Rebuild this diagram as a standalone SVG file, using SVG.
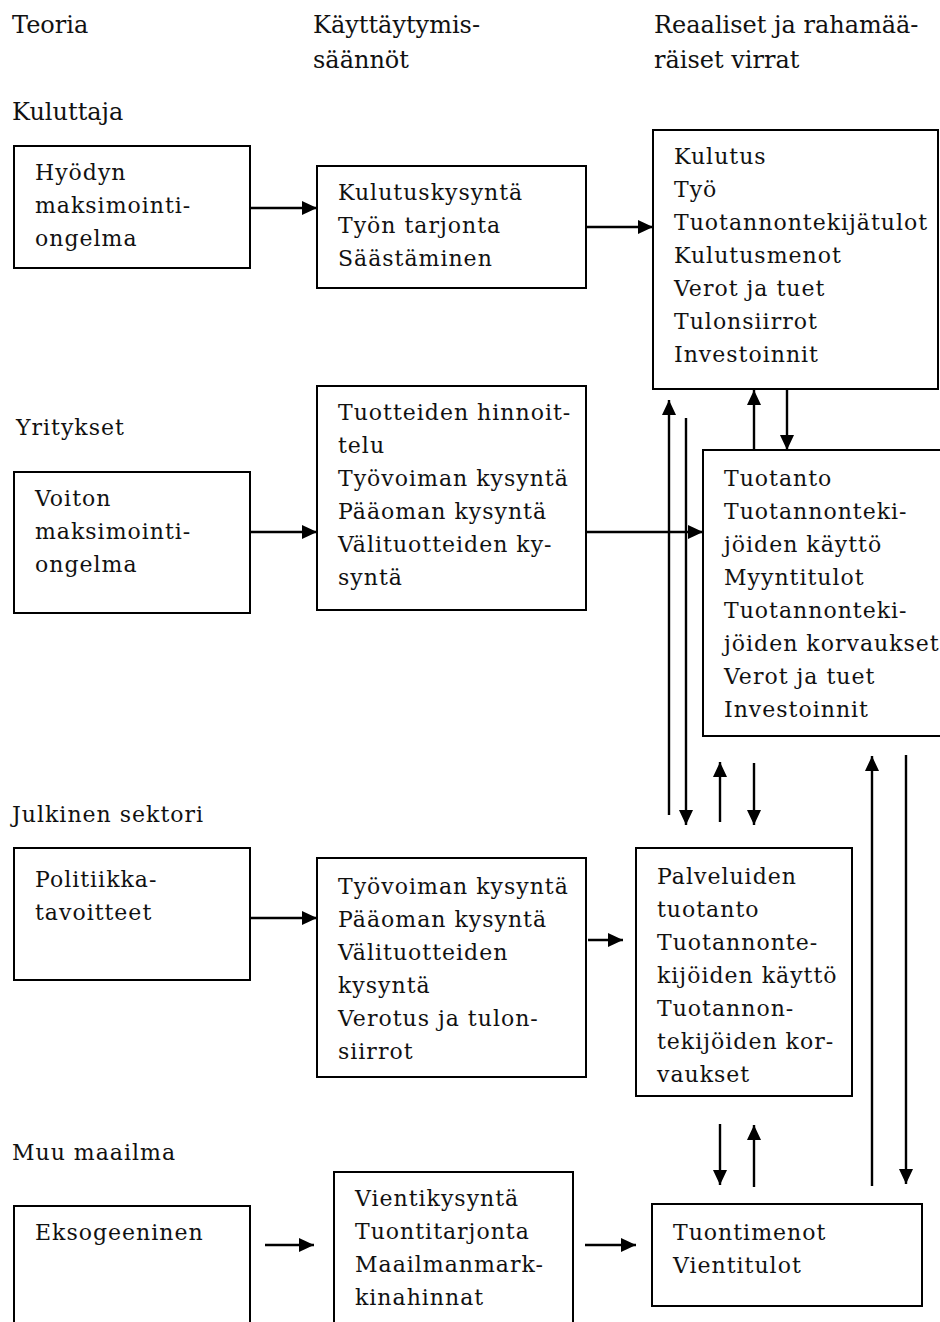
<svg xmlns="http://www.w3.org/2000/svg" width="940" height="1322" viewBox="0 0 940 1322">
<style>
.bg{fill:#fff}
.box{fill:#fff;stroke:#000;stroke-width:2}
.t{font-family:'DejaVu Serif',serif;font-size:22px;letter-spacing:1px;fill:#111}
.h{font-family:'DejaVu Serif',serif;font-size:24px;fill:#111}
.a{fill:none;stroke:#000;stroke-width:2.4;marker-end:url(#ah)}
</style>
<defs>
<marker id="ah" markerUnits="userSpaceOnUse" markerWidth="15" markerHeight="14" refX="15" refY="7" orient="auto">
<path d="M0,0 L15,7 L0,14 z" fill="#000"/>
</marker>
</defs>
<rect class="bg" x="0" y="0" width="940" height="1322"/>

<g id="headers">
<text class="h" x="12" y="33">Teoria</text>
<text class="h" x="313" y="33">Käyttäytymis-</text>
<text class="h" x="313" y="68">säännöt</text>
<text class="h" x="654" y="33">Reaaliset ja rahamää-</text>
<text class="h" x="654" y="68">räiset virrat</text>
<text class="h" x="12" y="120">Kuluttaja</text>
<text class="t" x="16" y="435">Yritykset</text>
<text class="t" x="12" y="822">Julkinen sektori</text>
<text class="t" x="12" y="1160">Muu maailma</text>
</g>

<g id="connectors">
<line class="a" x1="250" y1="208" x2="317" y2="208"/>
<line class="a" x1="586" y1="227" x2="653" y2="227"/>
<line class="a" x1="250" y1="532" x2="317" y2="532"/>
<line class="a" x1="586" y1="532" x2="703" y2="532"/>
<line class="a" x1="250" y1="918" x2="317" y2="918"/>
<line class="a" x1="588" y1="940" x2="623" y2="940"/>
<line class="a" x1="265" y1="1245" x2="314" y2="1245"/>
<line class="a" x1="585" y1="1245" x2="636" y2="1245"/>
<line class="a" x1="669" y1="815" x2="669" y2="400"/>
<line class="a" x1="686" y1="418" x2="686" y2="825"/>
<line class="a" x1="754" y1="450" x2="754" y2="390"/>
<line class="a" x1="787" y1="389" x2="787" y2="450"/>
<line class="a" x1="720" y1="822" x2="720" y2="762"/>
<line class="a" x1="754" y1="763" x2="754" y2="825"/>
<line class="a" x1="872" y1="1186" x2="872" y2="756"/>
<line class="a" x1="906" y1="755" x2="906" y2="1184"/>
<line class="a" x1="720" y1="1124" x2="720" y2="1185"/>
<line class="a" x1="754" y1="1187" x2="754" y2="1125"/>
</g>

<g id="hyodyn">
<rect class="box" x="14" y="146" width="236" height="122"/>
<text class="t" x="35" y="180">Hyödyn</text>
<text class="t" x="35" y="213">maksimointi-</text>
<text class="t" x="35" y="246">ongelma</text>
</g>

<g id="kulutuskysynta">
<rect class="box" x="317" y="166" width="269" height="122"/>
<text class="t" x="338" y="200">Kulutuskysyntä</text>
<text class="t" x="338" y="233">Työn tarjonta</text>
<text class="t" x="338" y="266">Säästäminen</text>
</g>

<g id="kulutus">
<rect class="box" x="653" y="130" width="285" height="259"/>
<text class="t" x="674" y="164">Kulutus</text>
<text class="t" x="674" y="197">Työ</text>
<text class="t" x="674" y="230">Tuotannontekijätulot</text>
<text class="t" x="674" y="263">Kulutusmenot</text>
<text class="t" x="674" y="296">Verot ja tuet</text>
<text class="t" x="674" y="329">Tulonsiirrot</text>
<text class="t" x="674" y="362">Investoinnit</text>
</g>

<g id="voiton">
<rect class="box" x="14" y="472" width="236" height="141"/>
<text class="t" x="35" y="506">Voiton</text>
<text class="t" x="35" y="539">maksimointi-</text>
<text class="t" x="35" y="572">ongelma</text>
</g>

<g id="tuotteiden">
<rect class="box" x="317" y="386" width="269" height="224"/>
<text class="t" x="338" y="420">Tuotteiden hinnoit-</text>
<text class="t" x="338" y="453">telu</text>
<text class="t" x="338" y="486">Työvoiman kysyntä</text>
<text class="t" x="338" y="519">Pääoman kysyntä</text>
<text class="t" x="338" y="552">Välituotteiden ky-</text>
<text class="t" x="338" y="585">syntä</text>
</g>

<g id="tuotanto">
<rect class="box" x="703" y="450" width="250" height="286"/>
<text class="t" x="724" y="486">Tuotanto</text>
<text class="t" x="724" y="519">Tuotannonteki-</text>
<text class="t" x="724" y="552">jöiden käyttö</text>
<text class="t" x="724" y="585">Myyntitulot</text>
<text class="t" x="724" y="618">Tuotannonteki-</text>
<text class="t" x="724" y="651">jöiden korvaukset</text>
<text class="t" x="724" y="684">Verot ja tuet</text>
<text class="t" x="724" y="717">Investoinnit</text>
</g>

<g id="politiikka">
<rect class="box" x="14" y="848" width="236" height="132"/>
<text class="t" x="35" y="887">Politiikka-</text>
<text class="t" x="35" y="920">tavoitteet</text>
</g>

<g id="tyovoiman">
<rect class="box" x="317" y="858" width="269" height="219"/>
<text class="t" x="338" y="894">Työvoiman kysyntä</text>
<text class="t" x="338" y="927">Pääoman kysyntä</text>
<text class="t" x="338" y="960">Välituotteiden</text>
<text class="t" x="338" y="993">kysyntä</text>
<text class="t" x="338" y="1026">Verotus ja tulon-</text>
<text class="t" x="338" y="1059">siirrot</text>
</g>

<g id="palveluiden">
<rect class="box" x="636" y="848" width="216" height="248"/>
<text class="t" x="657" y="884">Palveluiden</text>
<text class="t" x="657" y="917">tuotanto</text>
<text class="t" x="657" y="950">Tuotannonte-</text>
<text class="t" x="657" y="983">kijöiden käyttö</text>
<text class="t" x="657" y="1016">Tuotannon-</text>
<text class="t" x="657" y="1049">tekijöiden kor-</text>
<text class="t" x="657" y="1082">vaukset</text>
</g>

<g id="eksogeeninen">
<rect class="box" x="14" y="1206" width="236" height="140"/>
<text class="t" x="35" y="1240">Eksogeeninen</text>
</g>

<g id="vientikysynta">
<rect class="box" x="334" y="1172" width="239" height="170"/>
<text class="t" x="355" y="1206">Vientikysyntä</text>
<text class="t" x="355" y="1239">Tuontitarjonta</text>
<text class="t" x="355" y="1272">Maailmanmark-</text>
<text class="t" x="355" y="1305">kinahinnat</text>
</g>

<g id="tuontimenot">
<rect class="box" x="652" y="1204" width="270" height="102"/>
<text class="t" x="673" y="1240">Tuontimenot</text>
<text class="t" x="673" y="1273">Vientitulot</text>
</g>
</svg>
